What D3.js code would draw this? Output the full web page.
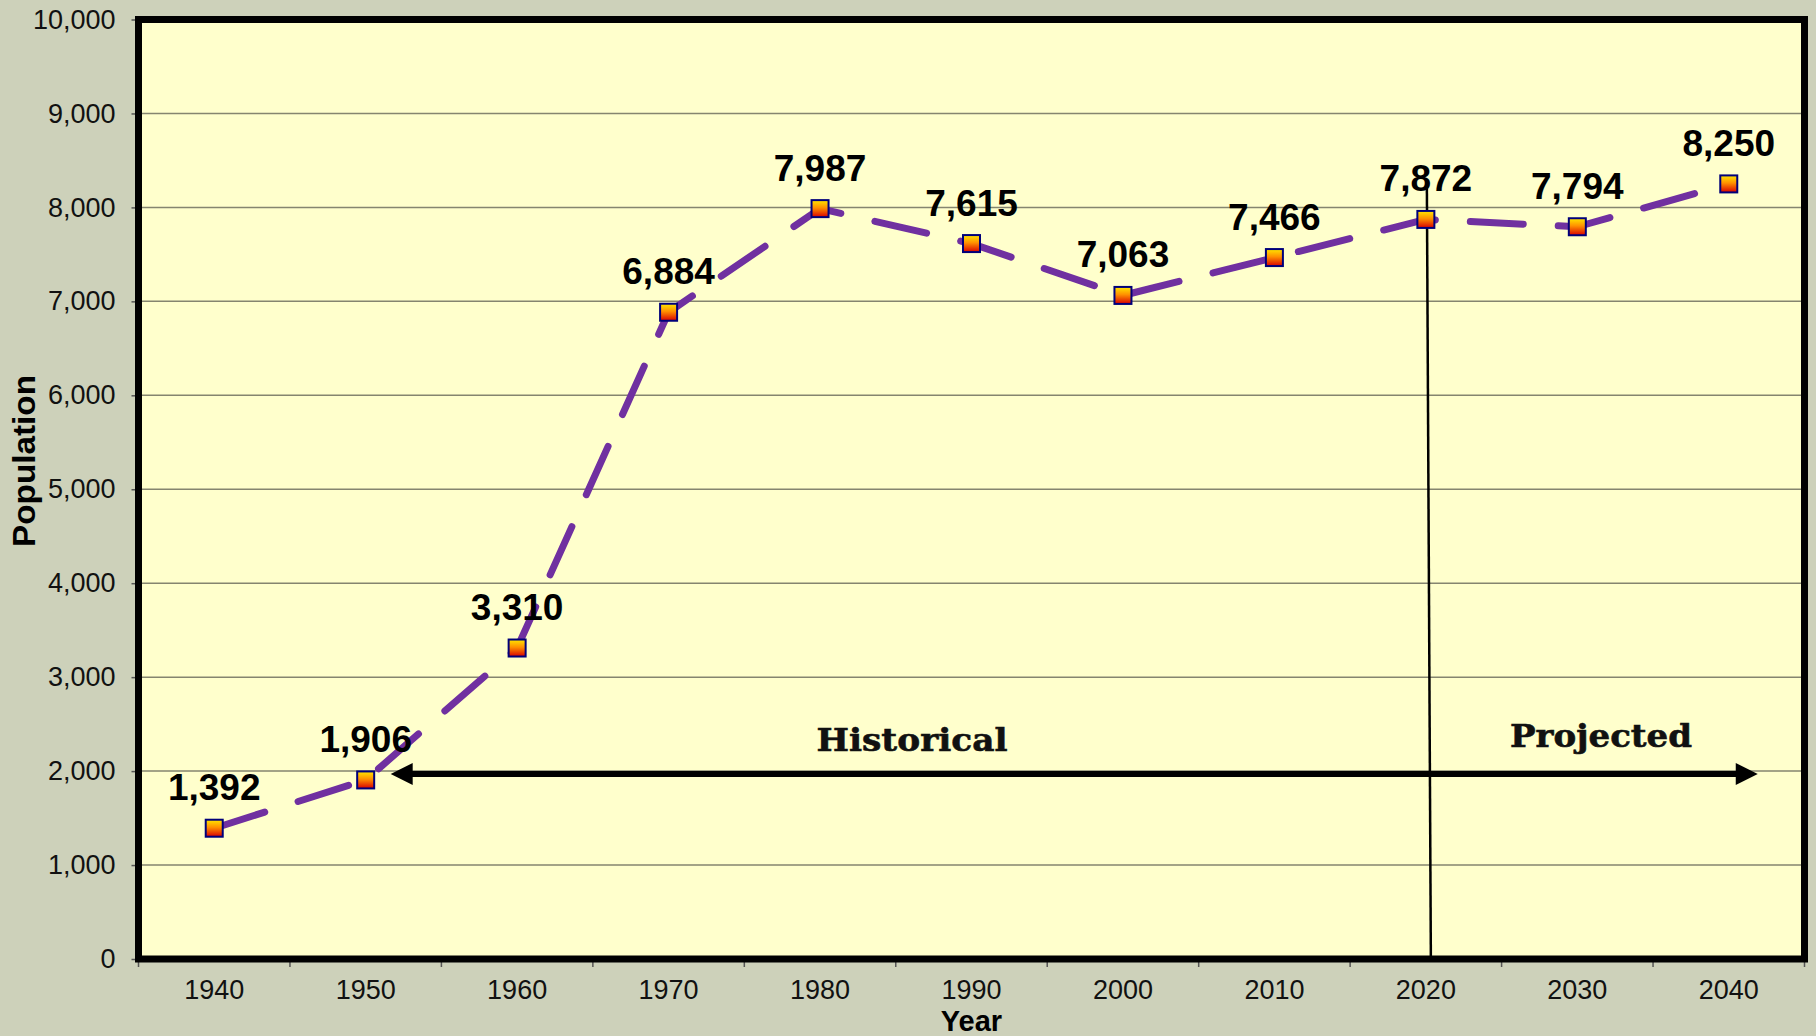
<!DOCTYPE html>
<html>
<head>
<meta charset="utf-8">
<script src="https://cdn.jsdelivr.net/npm/d3@7"></script>
<style>
  html, body { margin: 0; padding: 0; background: #CDD1BA; }
  svg { display: block; }
</style>
</head>
<body>
<svg id="chart" width="1816" height="1036"></svg>
<script>
// Population by decade (census counts through 2020, projections after)
const years = ["1940", "1950", "1960", "1970", "1980", "1990", "2000", "2010", "2020", "2030", "2040"];
const population = [1392, 1906, 3310, 6884, 7987, 7615, 7063, 7466, 7872, 7794, 8250];
const yTicks = [0, 1000, 2000, 3000, 4000, 5000, 6000, 7000, 8000, 9000, 10000];

// Historical / projected annotation
const periodLabels = ["Historical", "Projected"];
const splitYear = "2020";
const arrowLevel = 2000;      // population level where the period arrow runs
const splitTopValue = 8240;   // top of the divider line, in population units

const W = 1816, H = 1036;
const plot = { left: 138.5, right: 1804.5, top: 19.5, bottom: 959 };

const svg = d3.select("#chart");

svg.append("rect").attr("width", W).attr("height", H).attr("fill", "#CDD1BA");

const x = d3.scaleBand().domain(years).range([plot.left, plot.right]).padding(0);
const y = d3.scaleLinear().domain([0, 10000]).range([plot.bottom, plot.top]);
const cx = d => x(d) + x.bandwidth() / 2;

const defs = svg.append("defs");
const grad = defs.append("linearGradient")
  .attr("id", "markerFill").attr("x1", 0).attr("y1", 0).attr("x2", 0).attr("y2", 1);
grad.append("stop").attr("offset", "0%").attr("stop-color", "#FFE800");
grad.append("stop").attr("offset", "45%").attr("stop-color", "#FF9000");
grad.append("stop").attr("offset", "100%").attr("stop-color", "#D80000");

// plot area fill
svg.append("rect")
  .attr("x", plot.left).attr("y", plot.top)
  .attr("width", plot.right - plot.left).attr("height", plot.bottom - plot.top)
  .attr("fill", "#FFFFCC");

// horizontal gridlines
svg.append("g").selectAll("line")
  .data(yTicks.filter(t => t > 0 && t < 10000))
  .join("line")
  .attr("x1", plot.left).attr("x2", plot.right)
  .attr("y1", d => y(d)).attr("y2", d => y(d))
  .attr("stroke", "#85856F").attr("stroke-width", 1.5);

// y axis
const yAxis = svg.append("g")
  .attr("transform", `translate(${plot.left},0)`)
  .call(d3.axisLeft(y).tickValues(yTicks).tickFormat(d3.format(",")).tickSize(7).tickPadding(16));
yAxis.select(".domain").remove();
yAxis.selectAll(".tick line").attr("stroke", "#555").attr("stroke-width", 1.5);
yAxis.selectAll(".tick text")
  .attr("font-family", "Liberation Sans, Arial, sans-serif")
  .attr("font-size", 27).attr("fill", "#111");

// x axis labels centred in each category
const xAxis = svg.append("g")
  .attr("transform", `translate(0,${plot.bottom})`)
  .call(d3.axisBottom(x).tickSize(0).tickPadding(21));
xAxis.select(".domain").remove();
xAxis.selectAll(".tick text")
  .attr("font-family", "Liberation Sans, Arial, sans-serif")
  .attr("font-size", 27).attr("fill", "#111");

// x tick marks between categories
const edges = years.map(d => x(d)).concat([x(years[years.length - 1]) + x.bandwidth()]);
svg.append("g").selectAll("line")
  .data(edges)
  .join("line")
  .attr("x1", d => d).attr("x2", d => d)
  .attr("y1", plot.bottom).attr("y2", plot.bottom + 8)
  .attr("stroke", "#555").attr("stroke-width", 1.5);

// divider between historical and projected
svg.append("line")
  .attr("x1", cx(splitYear) + 1).attr("y1", y(splitTopValue))
  .attr("x2", cx(splitYear) + 5).attr("y2", plot.bottom)
  .attr("stroke", "#000").attr("stroke-width", 2.5);

// period arrow
const ay = y(arrowLevel) + 3;
const aLeft = cx(years[1]) + 25;
const aRight = cx(years[years.length - 1]) + 29;
const headLen = 22, headHalf = 11;
svg.append("line")
  .attr("x1", aLeft + headLen - 2).attr("x2", aRight - headLen + 2)
  .attr("y1", ay).attr("y2", ay)
  .attr("stroke", "#000").attr("stroke-width", 6);
svg.append("path")
  .attr("d", `M${aLeft},${ay} L${aLeft + headLen},${ay - headHalf} L${aLeft + headLen},${ay + headHalf} Z`)
  .attr("fill", "#000");
svg.append("path")
  .attr("d", `M${aRight},${ay} L${aRight - headLen},${ay - headHalf} L${aRight - headLen},${ay + headHalf} Z`)
  .attr("fill", "#000");

svg.append("text")
  .attr("x", 912).attr("y", ay - 23)
  .attr("text-anchor", "middle")
  .attr("font-family", "DejaVu Serif, serif").attr("font-weight", "bold")
  .attr("font-size", 32).attr("textLength", 191).attr("lengthAdjust", "spacingAndGlyphs")
  .attr("fill", "#111").attr("stroke", "#111").attr("stroke-width", 0.6)
  .text(periodLabels[0]);
svg.append("text")
  .attr("x", 1601).attr("y", ay - 27)
  .attr("text-anchor", "middle")
  .attr("font-family", "DejaVu Serif, serif").attr("font-weight", "bold")
  .attr("font-size", 32).attr("textLength", 182).attr("lengthAdjust", "spacingAndGlyphs")
  .attr("fill", "#111").attr("stroke", "#111").attr("stroke-width", 0.6)
  .text(periodLabels[1]);

// population line
const series = years.map((yr, i) => ({ year: yr, value: population[i] }));
svg.append("path")
  .datum(series)
  .attr("d", d3.line().x(d => cx(d.year)).y(d => y(d.value)))
  .attr("fill", "none")
  .attr("stroke", "#7030A0").attr("stroke-width", 7)
  .attr("stroke-linecap", "round").attr("stroke-linejoin", "round")
  .attr("stroke-dasharray", "53,35");

// markers
svg.append("g").selectAll("rect")
  .data(series)
  .join("rect")
  .attr("x", d => cx(d.year) - 8.5).attr("y", d => y(d.value) - 8.5)
  .attr("width", 17).attr("height", 17)
  .attr("fill", "url(#markerFill)")
  .attr("stroke", "#00007A").attr("stroke-width", 2);

// value labels
svg.append("g").selectAll("text")
  .data(series)
  .join("text")
  .attr("x", d => cx(d.year)).attr("y", d => y(d.value) - 28)
  .attr("text-anchor", "middle")
  .attr("font-family", "Liberation Sans, Arial, sans-serif").attr("font-weight", "bold")
  .attr("font-size", 37).attr("fill", "#000")
  .text(d => d3.format(",")(d.value));

// plot frame
svg.append("rect")
  .attr("x", plot.left).attr("y", plot.top)
  .attr("width", plot.right - plot.left).attr("height", plot.bottom - plot.top)
  .attr("fill", "none").attr("stroke", "#000").attr("stroke-width", 7);

// axis titles
svg.append("text")
  .attr("x", (plot.left + plot.right) / 2).attr("y", 1031)
  .attr("text-anchor", "middle")
  .attr("font-family", "Liberation Sans, Arial, sans-serif").attr("font-weight", "bold")
  .attr("font-size", 29).attr("fill", "#000")
  .text("Year");
svg.append("text")
  .attr("transform", "translate(35,461) rotate(-90)")
  .attr("text-anchor", "middle")
  .attr("font-family", "Liberation Sans, Arial, sans-serif").attr("font-weight", "bold")
  .attr("font-size", 31).attr("textLength", 172).attr("lengthAdjust", "spacingAndGlyphs")
  .attr("fill", "#000")
  .text("Population");
</script>
</body>
</html>
